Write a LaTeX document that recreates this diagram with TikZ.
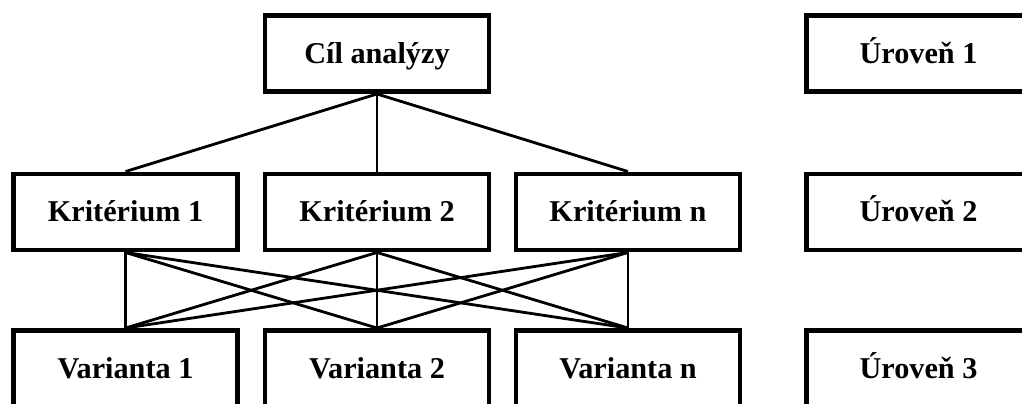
\documentclass[tikz,border=0pt]{standalone}
\usepackage{fontspec}
\setmainfont{Liberation Serif}
\usetikzlibrary{positioning}

\begin{document}
\begin{tikzpicture}[
    x=0.025cm, y=-0.025cm,
    box/.style={rectangle, draw, line width=3.5pt, inner sep=0pt, minimum width=5.6cm, minimum height=1.9cm,
        text height=14pt, text depth=0pt, font=\fontsize{21.5}{25}\selectfont\bfseries},
    link/.style={line width=2pt}
]
\useasboundingbox (0,0) rectangle (1022,403);
\clip (0,0) rectangle (1022,403);

% === Level 1 ===
\node[box] (goal) at (377,53.5) {Cíl analýzy};
\node[box] (lvl1) at (918.5,53.5) {Úroveň 1};

% === Criteria and variants ===
\foreach \i/\x/\t in {1/125.5/1, 2/377/2, 3/628/n} {
    \node[box] (crit\i) at (\x,212) {Kritérium \t};
    \node[box] (var\i) at (\x,368.5) {Varianta \t};
}
\node[box] (lvl2) at (918.5,212) {Úroveň 2};
\node[box] (lvl3) at (918.5,368.5) {Úroveň 3};

% Links
\foreach \i in {1,2,3} {
    \draw[link] (goal.south) -- (crit\i.north);
    \foreach \j in {1,2,3}
        \draw[link] (crit\i.south) -- (var\j.north);
}
\end{tikzpicture}
\end{document}
